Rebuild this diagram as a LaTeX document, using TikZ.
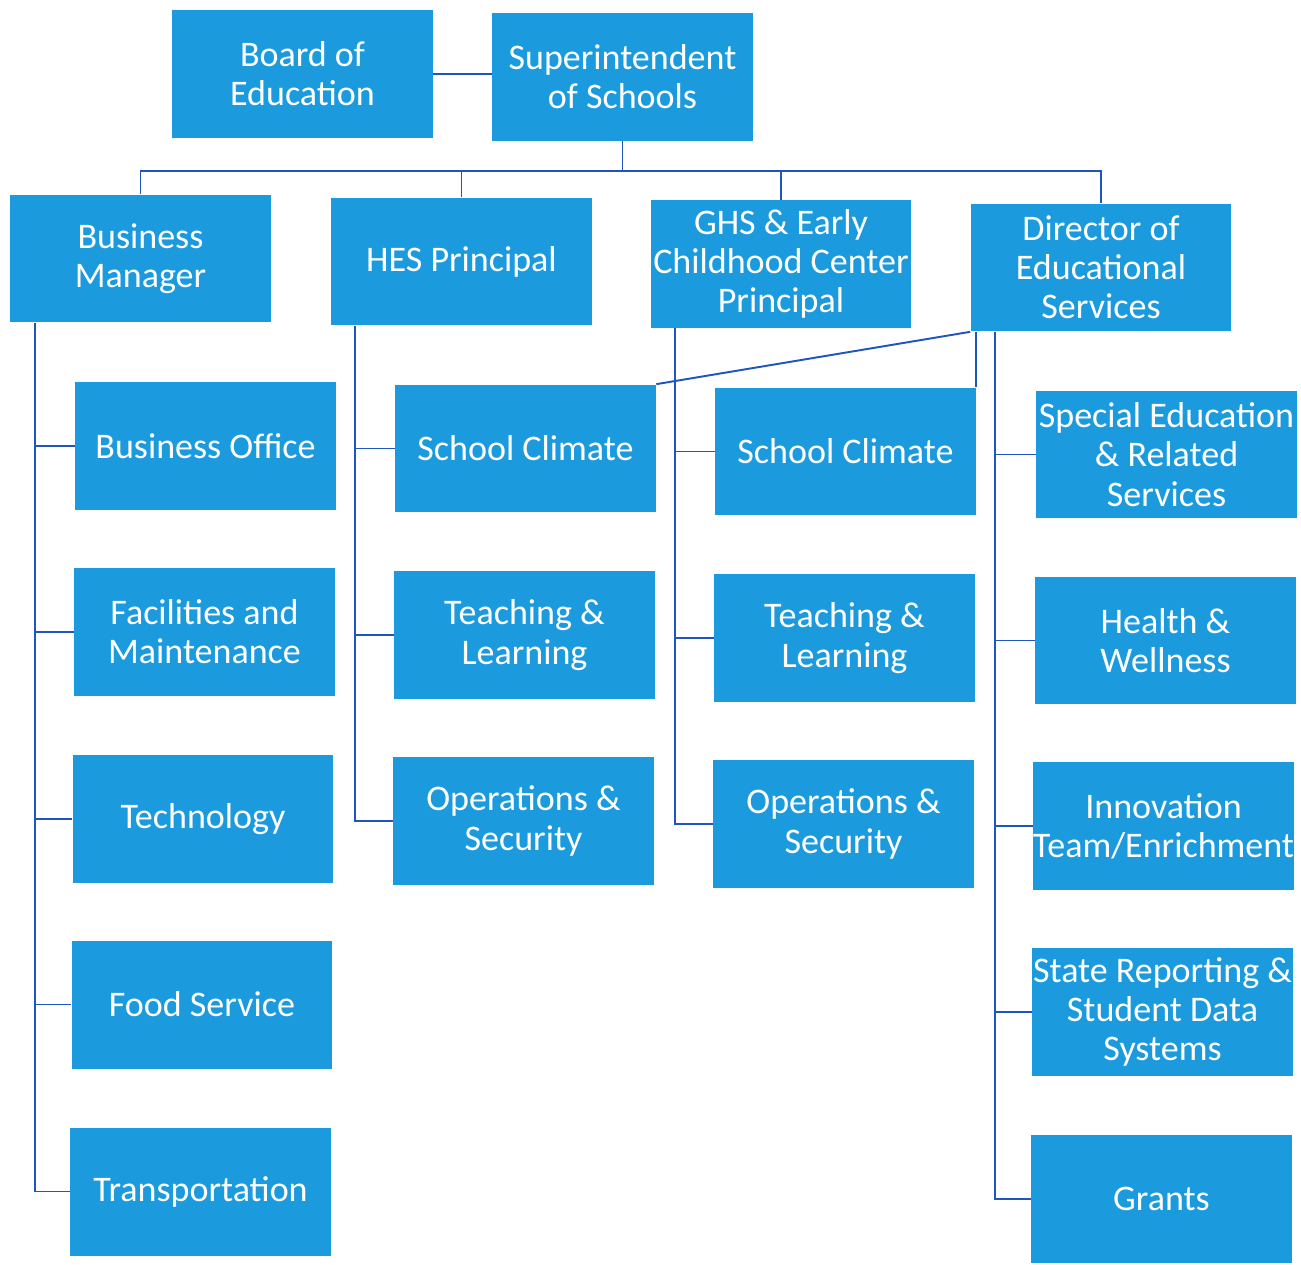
\documentclass[tikz,border=0pt]{standalone}
\usepackage{fontspec}
\setmainfont{Carlito}
\definecolor{boxblue}{RGB}{28,154,222}
\definecolor{linkblue}{RGB}{30,85,190}
\begin{document}
\begin{tikzpicture}[x=0.02cm,y=-0.02cm,
  unit/.style={fill=boxblue, draw=none, text=white, minimum width=5.22cm, minimum height=2.56cm,
    inner sep=0pt, align=center, font=\fontsize{20.5}{22.3}\selectfont},
  conn/.style={draw=linkblue, line width=1.1pt}]
\useasboundingbox (0,0) rectangle (1301,1264);
% top level
\node[unit] (board) at (302.5,74) {Board of\\Education};
\node[unit] (sup) at (622.5,77) {Superintendent\\of Schools};
% second level
\node[unit] (bm) at (140.5,258.5) {Business\\Manager};
\node[unit] (hes) at (461.5,261.5) {HES Principal};
\node[unit] (ghs) at (781,264) {GHS \& Early\\Childhood Center\\Principal};
\node[unit] (dir) at (1101,267.5) {Director of\\Educational\\Services};
% business manager column
\node[unit] (bo) at (205.5,446) {Business Office};
\node[unit] (fac) at (204.5,632) {Facilities and\\Maintenance};
\node[unit] (tech) at (203,819) {Technology};
\node[unit] (food) at (202,1004.5) {Food Service};
\node[unit] (trans) at (200.5,1191.5) {Transportation};
% HES column
\node[unit] (hsc) at (525.5,448.5) {School Climate};
\node[unit] (htl) at (524.5,635) {Teaching \&\\Learning};
\node[unit] (hos) at (523.5,821) {Operations \&\\Security};
% GHS column
\node[unit] (gsc) at (845.5,451.5) {School Climate};
\node[unit] (gtl) at (844.5,638) {Teaching \&\\Learning};
\node[unit] (gos) at (843.5,824) {Operations \&\\Security};
% Director column
\node[unit] (sped) at (1166.5,454.5) {Special Education\\\& Related\\Services};
\node[unit] (hw) at (1165.5,640.5) {Health \&\\Wellness};
\node[unit] (inn) at (1163.5,826) {Innovation\\Team/Enrichment};
\node[unit] (srep) at (1162.5,1012) {State Reporting \&\\Student Data\\Systems};
\node[unit] (grants) at (1161.5,1199) {Grants};
% connectors: top
\draw[conn] (board.east) -- (board.east -| sup.west);
\coordinate (bus) at (0,171);
\draw[conn] (sup.south) -- (sup.south |- bus);
\draw[conn] (bm.north) -- (bm.north |- bus) -- (dir.north |- bus) -- (dir.north);
\draw[conn] (hes.north) -- (hes.north |- bus);
\draw[conn] (ghs.north) -- (ghs.north |- bus);
% column spines
\coordinate (c1) at (35,0);
\coordinate (c2) at (355,0);
\coordinate (c3) at (675,0);
\coordinate (c4) at (995,0);
\draw[conn] (bm.south -| c1) |- (trans.west);
\foreach \n in {bo,fac,tech,food} \draw[conn] (\n.west -| c1) -- (\n.west);
\draw[conn] (hes.south -| c2) |- (hos.west);
\foreach \n in {hsc,htl} \draw[conn] (\n.west -| c2) -- (\n.west);
\draw[conn] (ghs.south -| c3) |- (gos.west);
\foreach \n in {gsc,gtl} \draw[conn] (\n.west -| c3) -- (\n.west);
\draw[conn] (dir.south -| c4) |- (grants.west);
\foreach \n in {sped,hw,inn,srep} \draw[conn] (\n.west -| c4) -- (\n.west);
% director links to school climate units
\draw[conn] (dir.south west) -- (hsc.north east);
\draw[conn] (gsc.north east) -- (gsc.north east |- dir.south);
\end{tikzpicture}
\end{document}
